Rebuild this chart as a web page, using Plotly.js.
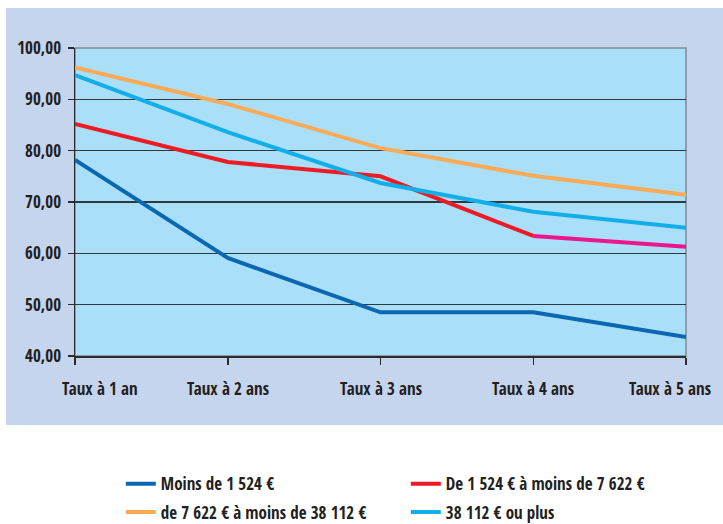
<!DOCTYPE html>
<html><head><meta charset="utf-8">
<script src="https://cdn.plot.ly/plotly-3.0.1.min.js"></script>
<style>html,body{margin:0;padding:0;background:#fff}</style>
</head><body>
<div id="chart" style="width:723px;height:524px"></div>
<script>
const categories = ["Taux à 1 an","Taux à 2 ans","Taux à 3 ans","Taux à 4 ans","Taux à 5 ans"];
const seriesNames = ["Moins de 1 524 €","De 1 524 € à moins de 7 622 €","de 7 622 € à moins de 38 112 €","38 112 € ou plus"];
const moins1524 = [78.2, 59.1, 48.5, 48.5, 43.7];
const de1524a7622 = [85.2, 77.8, 75.0, 63.4, 61.3];
const de7622a38112 = [96.2, 89.1, 80.5, 75.1, 71.4];
const plus38112 = [94.7, 83.6, 73.7, 68.1, 65.0];
const yTicks = [40,50,60,70,80,90,100];

const FONT = '"Open Sans Condensed","Roboto Condensed","DejaVu Sans Condensed",sans-serif';
const TXT = '#231f20';
function tr(x,y,name,color,legend,show){
  return {x:x,y:y,name:name,type:'scatter',mode:'lines',line:{color:color,width:4},
    legend:legend,showlegend:show,hoverinfo:'skip'};
}
const traces = [
  tr(categories, moins1524, seriesNames[0], '#0b67b2','legend',true),
  tr(categories.slice(0,4), de1524a7622.slice(0,4), seriesNames[1], '#ed1c24','legend',true),
  tr(categories.slice(3), de1524a7622.slice(3), seriesNames[1], '#ec178c','legend',false),
  tr(categories, de7622a38112, seriesNames[2], '#fbab57','legend2',true),
  tr(categories, plus38112, seriesNames[3], '#12aee9','legend2',true)
];
const legFont = {family:FONT,size:17,color:TXT,weight:'bold'};
const xshifts = [25,0,0,0,-16];
const annotations = categories.map((c,i)=>({x:c,y:0,xref:'x',yref:'paper',yanchor:'top',yshift:-19,xshift:xshifts[i],
  text:c,showarrow:false,font:{family:FONT,size:17,color:TXT,weight:'bold'}}));
const layout = {
  width:723,height:524,
  margin:{l:75,r:37,t:48,b:168,autoexpand:false},
  paper_bgcolor:'#ffffff',plot_bgcolor:'rgba(0,0,0,0)',
  separators:', ',
  font:{family:FONT,color:TXT},
  xaxis:{type:'category',range:[0,4],showgrid:false,zeroline:false,showline:true,linecolor:'#2b2b2b',linewidth:1.5,
    ticks:'outside',ticklen:7,tickcolor:'#2b2b2b',tickwidth:1.5,showticklabels:false},
  yaxis:{range:[40,100],tickvals:yTicks,tickformat:'.2f',showgrid:true,gridcolor:'#2f3a40',gridwidth:1.3,
    zeroline:false,showline:true,linecolor:'#2b2b2b',linewidth:1.5,ticks:'outside',ticklen:6,tickcolor:'#2b2b2b',tickwidth:1.5,
    ticklabelstandoff:3,tickfont:{family:FONT,size:17,color:TXT,weight:'bold'}},
  showlegend:true,
  legend:{orientation:'h',x:0.075,xanchor:'left',y:-0.416,yanchor:'middle',entrywidth:240,itemwidth:30,
    font:legFont,bgcolor:'rgba(0,0,0,0)'},
  legend2:{orientation:'h',x:0.075,xanchor:'left',y:-0.508,yanchor:'middle',entrywidth:240,itemwidth:30,
    font:legFont,bgcolor:'rgba(0,0,0,0)'},
  annotations:annotations,
  shapes:[
    {type:'rect',xref:'paper',yref:'paper',x0:-0.1129,x1:1.07,y0:-0.224,y1:1.1299,fillcolor:'#c6d5ee',line:{width:0},layer:'below'},
    {type:'rect',xref:'paper',yref:'paper',x0:0,x1:1,y0:0,y1:1,fillcolor:'#a9dff9',line:{color:'#7f8a92',width:1.5},layer:'below'}
  ]
};
Plotly.newPlot('chart',traces,layout,{displayModeBar:false,staticPlot:true});
</script>
</body></html>
